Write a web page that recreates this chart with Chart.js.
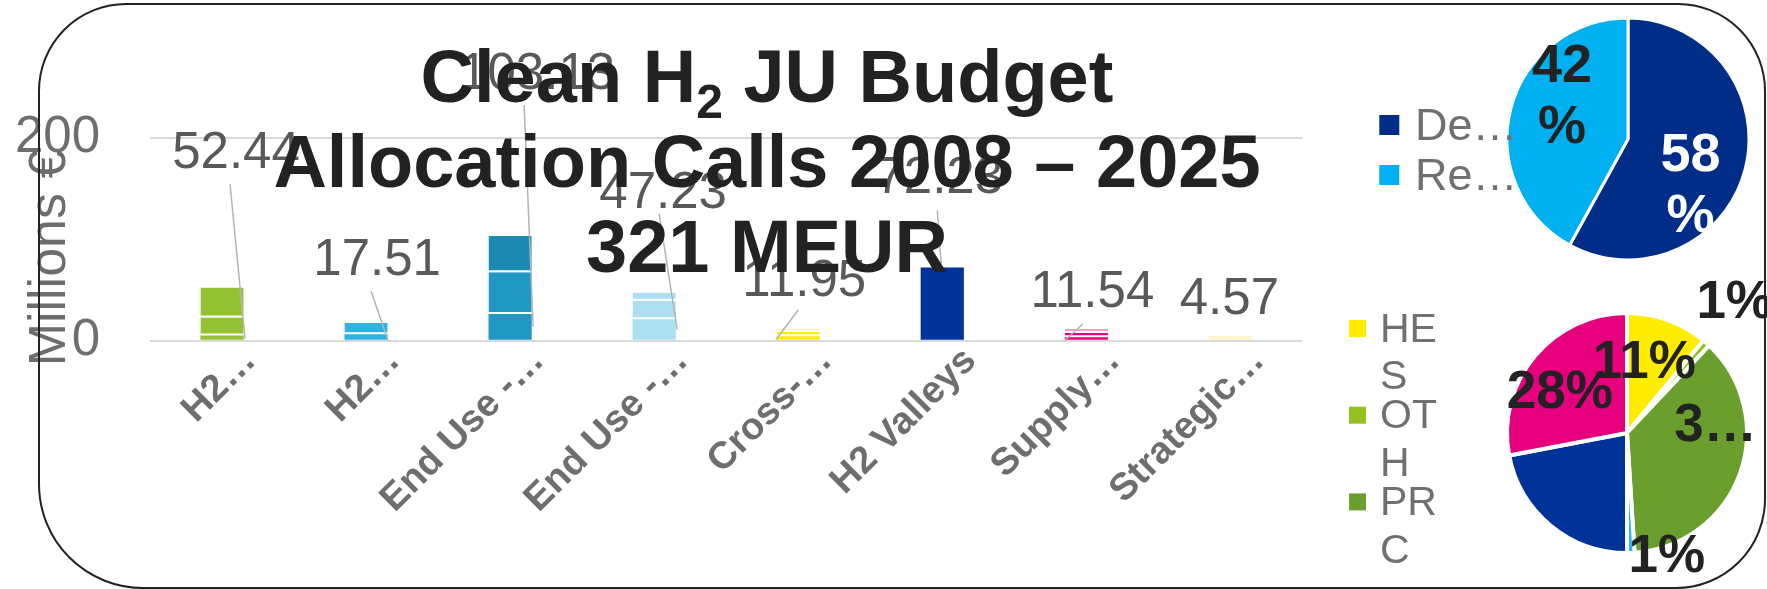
<!DOCTYPE html>
<html>
<head>
<meta charset="utf-8">
<title>Clean H2 JU Budget</title>
<script src="https://cdn.jsdelivr.net/npm/chart.js@4.4.1/dist/chart.umd.min.js"></script>
<style>
  html, body { margin: 0; padding: 0; background: #fff; overflow: hidden; }
  #page { position: relative; width: 1767px; height: 589px; background: #fff; }
  #page canvas { position: absolute; }
  #frame { position: absolute; left: 38px; top: 3px; width: 1728px; height: 586px; box-sizing: border-box;
           border: 2.5px solid #222; border-radius: 88px 88px 90px 105px; pointer-events: none; }
</style>
</head>
<body>
<div id="page">
  <canvas id="bars" width="1767" height="589" style="left:0;top:0"></canvas>
  <canvas id="pieSplit" width="397" height="278" style="left:1370px;top:0"></canvas>
  <canvas id="pieTypes" width="427" height="319" style="left:1340px;top:270px"></canvas>
  <div id="frame"></div>
</div>
<script>
// --- data ---
const categories = ['H2…', 'H2…', 'End Use -…', 'End Use -…', 'Cross-…', 'H2 Valleys', 'Supply…', 'Strategic…'];
const totals = [52.44, 17.51, 103.13, 47.23, 11.95, 72.23, 11.54, 4.57];
// stacked pieces of each bar, bottom to top
const part1 = [5.1, 6.3, 26.4, 21.25, 4.5, 72.23, 3.5, 4.57];
const part2 = [17.7, 11.21, 41.05, 18.17, 4.0, null, 4.0, null];
const part3 = [29.64, null, 35.68, 7.81, 3.45, null, 4.04, null];
const yTicks = [0, 200];

const splitLabels = ['De…', 'Re…'];
const splitValues = [58, 42];

const typeLabels = ['HES', 'OTH', 'PRC'];
const typeValues = [11, 1, 37, 1, 22, 28];
const typeShown = ['11%', '1%', '3…', '1%', '', '28%'];

// --- styles ---
const FONT = "'Liberation Sans', Arial, sans-serif";
Chart.defaults.font.family = FONT;
Chart.defaults.animation = false;

const colors1 = ['#94C033', '#2DB2E2', '#2198C4', '#ABDFF1', '#FFED00', '#003399', '#E6007E', '#FFF5CC'];
const colors2 = ['#94C033', '#2DB2E2', '#2198C4', '#ABDFF1', '#FFED00', '#003399', '#E6007E', '#FFF5CC'];
const colors3 = ['#94C033', '#2DB2E2', '#1C89B1', '#ABDFF1', '#FFF799', '#003399', '#F29FC5', '#FFF5CC'];
const splitColors = ['#002D88', '#00B0F0'];
const typeColors = ['#FFED00', '#95C11F', '#6A9F2E', '#29B6E8', '#003399', '#E6007E'];

// value labels: offset from bar centre / bar top, leader from label to bar foot
const labelPlace = [
  { dx: 14, dy: -137.5, lead: [-6, 34, 23, -2] },
  { dx: 11, dy: -66, lead: [-6, 34, 22, 0] },
  { dx: 27, dy: -165, lead: [-13, 34, 23, -14] },
  { dx: 9, dy: -103, lead: [-4, 24, 23, -11] },
  { dx: 6, dy: -51, lead: [-6, 32.5, -22, -1.4] },
  { dx: -3, dy: -93, lead: [-2, 36, -1, -76] },
  { dx: 6, dy: -40, lead: [-9.5, 35, -21, -0.7] },
  { dx: -1, dy: -40, lead: null }
];

const titleLines = [
  [{ t: 'Clean H' }, { t: '2', sub: true }, { t: ' JU Budget' }],
  [{ t: 'Allocation Calls 2008 – 2025' }],
  [{ t: '321 MEUR' }]
];

function drawTitle(ctx) {
  const cx = 767, base = [102, 187, 272];
  ctx.fillStyle = '#222';
  ctx.textAlign = 'left';
  ctx.textBaseline = 'alphabetic';
  titleLines.forEach((parts, k) => {
    let w = 0;
    parts.forEach(p => {
      ctx.font = p.sub ? `bold 48px ${FONT}` : `bold 74px ${FONT}`;
      p.w = ctx.measureText(p.t).width;
      w += p.w;
    });
    let x = cx - w / 2;
    parts.forEach(p => {
      ctx.font = p.sub ? `bold 48px ${FONT}` : `bold 74px ${FONT}`;
      ctx.fillText(p.t, x, base[k] + (p.sub ? 15.6 : 0));
      x += p.w;
    });
  });
}

const barExtras = {
  id: 'barExtras',
  afterDatasetsDraw(chart) {
    const { ctx, scales: { x, y } } = chart;
    const y0 = y.getPixelForValue(0);
    ctx.save();
    totals.forEach((v, i) => {
      const cx = x.getPixelForValue(i), top = y.getPixelForValue(v);
      const p = labelPlace[i];
      const lx = cx + p.dx, ly = top + p.dy;
      if (p.lead) {
        ctx.strokeStyle = '#B4B4B4';
        ctx.lineWidth = 1.5;
        ctx.beginPath();
        ctx.moveTo(lx + p.lead[0], ly + p.lead[1]);
        ctx.lineTo(cx + p.lead[2], y0 + p.lead[3]);
        ctx.stroke();
      }
      ctx.font = `51px ${FONT}`;
      ctx.fillStyle = '#595959';
      ctx.textAlign = 'center';
      ctx.textBaseline = 'alphabetic';
      ctx.fillText(v.toFixed(2), lx, ly + 18.3);
    });
    // y axis title
    ctx.save();
    ctx.translate(65, 258);
    ctx.rotate(-Math.PI / 2);
    ctx.font = `52px ${FONT}`;
    ctx.fillStyle = '#6D6D6D';
    ctx.textAlign = 'center';
    ctx.fillText('Millions €', 0, 0);
    ctx.restore();
    drawTitle(ctx);
    ctx.restore();
  }
};

const pieBits = {
  id: 'pieBits',
  afterDatasetsDraw(chart, args, o) {
    const ctx = chart.ctx;
    const ds = chart.data.datasets[0];
    ctx.save();
    ctx.textAlign = 'center';
    ctx.textBaseline = 'alphabetic';
    ctx.font = `bold ${o.size}px ${FONT}`;
    chart.getDatasetMeta(0).data.forEach((arc, i) => {
      const lines = o.text[i];
      if (!lines || !lines.length) return;
      const pos = arc.tooltipPosition();
      ctx.fillStyle = o.colors[i];
      lines.forEach((line, k) => ctx.fillText(line, pos.x + o.offsets[i][0], pos.y + o.offsets[i][1] + k * o.lineGap));
    });
    // legend, Excel style
    const L = o.legend;
    ctx.textAlign = 'left';
    ctx.font = `${L.size}px ${FONT}`;
    chart.data.labels.forEach((lab, i) => {
      const b = L.first + i * L.step;
      ctx.fillStyle = ds.backgroundColor[i];
      ctx.fillRect(L.boxX, b - L.boxUp, L.box, L.box);
      ctx.fillStyle = '#707070';
      const lines = [];
      let cur = '';
      for (const ch of lab) {
        if (cur && ctx.measureText(cur + ch).width > L.maxW) { lines.push(cur); cur = ch; } else cur += ch;
      }
      if (cur) lines.push(cur);
      lines.forEach((ln, k) => ctx.fillText(ln, L.textX, b + k * L.lineGap));
    });
    ctx.restore();
  }
};

new Chart(document.getElementById('bars'), {
  type: 'bar',
  data: {
    labels: categories,
    datasets: [
      { data: part1, backgroundColor: colors1, borderWidth: 0 },
      { data: part2, backgroundColor: colors2, borderColor: '#FFFFFF', borderSkipped: false,
        borderWidth: { top: 0, left: 0, right: 0, bottom: 2 } },
      { data: part3, backgroundColor: colors3, borderColor: '#FFFFFF', borderSkipped: false,
        borderWidth: { top: 0, left: 0, right: 0, bottom: 2 } }
    ]
  },
  options: {
    responsive: false,
    animation: false,
    datasets: { bar: { barPercentage: 0.3, categoryPercentage: 1 } },
    layout: { padding: { top: 137.7, right: 464.6, bottom: 0, left: 0 } },
    plugins: { legend: { display: false }, tooltip: { enabled: false } },
    scales: {
      x: {
        stacked: true,
        grid: { display: false },
        border: { display: false },
        ticks: { color: '#6E6E6E', font: { size: 38, weight: 'bold' }, minRotation: 45, maxRotation: 45,
                 autoSkip: false, padding: -10, labelOffset: 28 },
        afterFit: s => { s.height = 248.3; }
      },
      y: {
        stacked: true,
        min: 0,
        max: 200,
        border: { display: false },
        grid: { color: '#D9D9D9', lineWidth: 2, drawTicks: false },
        ticks: { color: '#6E6E6E', font: { size: 51 }, padding: 50 },
        afterBuildTicks: s => { s.ticks = yTicks.map(v => ({ value: v })); },
        afterFit: s => { s.width = 150; }
      }
    }
  },
  plugins: [barExtras]
});

new Chart(document.getElementById('pieSplit'), {
  type: 'pie',
  data: {
    labels: splitLabels,
    datasets: [{ data: splitValues, backgroundColor: splitColors, borderColor: '#FFFFFF', borderWidth: 3 }]
  },
  options: {
    responsive: false,
    animation: false,
    radius: 121,
    layout: { padding: { left: 119, right: 0, top: 0, bottom: 0 } },
    plugins: {
      legend: { display: false },
      tooltip: { enabled: false },
      pieBits: {
        size: 54,
        text: splitValues.map(v => [String(v), '%']),
        colors: ['#FFFFFF', '#222222'],
        offsets: [[4, 17], [-7.4, -41.7]],
        lineGap: 61,
        legend: { size: 45, boxX: 9.3, box: 20, boxUp: 25, textX: 45, first: 140, step: 50, lineGap: 50, maxW: 300 }
      }
    }
  },
  plugins: [pieBits]
});

new Chart(document.getElementById('pieTypes'), {
  type: 'pie',
  data: {
    labels: typeLabels,
    datasets: [{ data: typeValues, backgroundColor: typeColors, borderColor: '#FFFFFF', borderWidth: 4 }]
  },
  options: {
    responsive: false,
    animation: false,
    radius: 120,
    layout: { padding: { left: 147, right: 0, top: 7, bottom: 0 } },
    plugins: {
      legend: { display: false },
      tooltip: { enabled: false },
      pieBits: {
        size: 53,
        text: typeShown.map(t => t ? [t] : []),
        colors: typeColors.map(() => '#222222'),
        offsets: [[-3, 1.5], [68, -69.5], [32, -12], [38, 79], [0, 0], [-21, 13]],
        lineGap: 0,
        legend: { size: 41, boxX: 9, box: 17, boxUp: 21.7, textX: 40, first: 71.7, step: 86.7, lineGap: 47.7, maxW: 62 }
      }
    }
  },
  plugins: [pieBits]
});
</script>
</body>
</html>
